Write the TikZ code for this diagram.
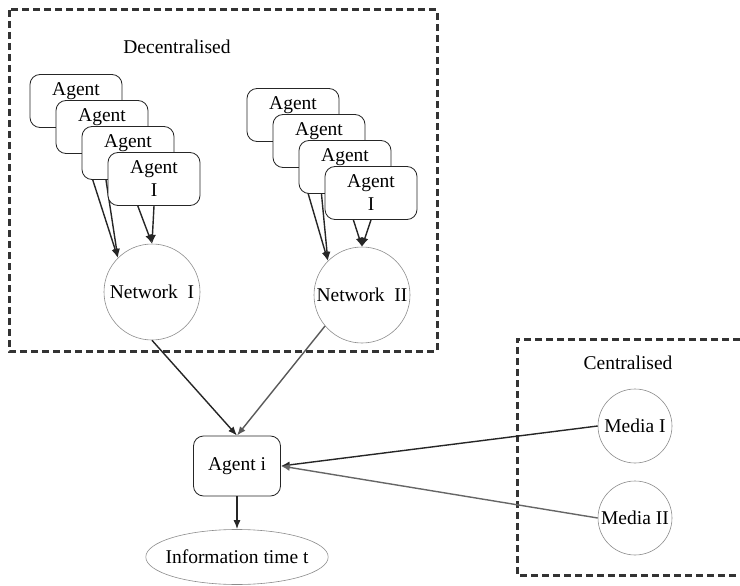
\documentclass[tikz,border=0pt]{standalone}
\usepackage{fontspec}
\setmainfont{Liberation Serif}
\usetikzlibrary{arrows.meta,shapes.geometric,backgrounds}

\begin{document}
\begin{tikzpicture}[x=1pt,y=-1pt]
\tikzset{every node/.style={font=\fontsize{19.5}{23}\selectfont}}
\tikzset{
  agentbox/.style={draw=black!85,fill=white,rounded corners=10pt,minimum width=92pt,minimum height=53pt,align=center,inner sep=2pt,line width=0.8pt},
  netcircle/.style={circle,draw=black!45,fill=white,minimum size=96pt,inner sep=0pt,line width=0.6pt},
  mediacircle/.style={circle,draw=black!45,fill=white,minimum size=74pt,inner sep=0pt,line width=0.6pt},
  infoellipse/.style={ellipse,draw=black!45,minimum height=55pt,inner xsep=-7pt,line width=0.6pt},
  frame/.style={draw=black!80,line width=3pt,dash pattern=on 7pt off 4pt},
  link/.style={-{Latex[length=9pt,width=7pt]},draw=black!85,line width=1.4pt},
}
\useasboundingbox (0,0) rectangle (740,586);

% Dashed frames
\draw[frame] (9,10) rectangle (437,351);
\draw[frame] (740,339) -- (517,339) -- (517,575) -- (740,575);
\node at (177,47) (dec) {Decentralised};
\node at (628,363) (cen) {Centralised};

% Nodes for agents of network I
\node[agentbox] at (76,101) (A1) {Agent\\I};
\node[agentbox] at (102,127) (A2) {Agent\\I};
\node[agentbox] at (128,153) (A3) {Agent\\I};
\node[agentbox] at (154,179) (A4) {Agent\\I};

% Nodes for agents of network II
\node[agentbox] at (293,115) (B1) {Agent\\I};
\node[agentbox] at (319,141) (B2) {Agent\\I};
\node[agentbox] at (345,167) (B3) {Agent\\I};
\node[agentbox] at (371,193) (B4) {Agent\\I};

% Nodes for networks and media
\node[netcircle] at (152,292) (NetI) {Network~~I};
\node[netcircle] at (362,295) (NetII) {Network~~II};
\node[mediacircle] at (635,426) (MediaI) {Media I};
\node[mediacircle] at (635,518) (MediaII) {Media II};

% Nodes for agent i and output
\node[agentbox,minimum width=87pt,minimum height=60pt] at (237,466) (Ai) {Agent i};
\node[infoellipse] at (237,557) (info) {Information time t};

% Lines for network I
\begin{scope}[on background layer]
\draw[link] (A1.south) -- (NetI.north west);
\draw[link] (A2.south) -- (NetI.north west);
\draw[link] (A3.south) -- (NetI.north);
\draw[link] (A4.south) -- (NetI.north);

% Lines for network II
\draw[link] (B1.south) -- (NetII.north west);
\draw[link] (B2.south) -- (NetII.north west);
\draw[link] (B3.south) -- (NetII.north);
\draw[link] (B4.south) -- (NetII.north);
\end{scope}

% Lines for agent i
\draw[link] (NetI.south) -- (Ai.north);
\draw[link,draw=black!65] (NetII.220) -- (Ai.north);
\draw[link] (MediaI.west) -- (Ai.east);
\draw[link,draw=black!60] (MediaII.west) -- (Ai.east);
\draw[link] (Ai.south) -- (info.north);
\end{tikzpicture}
\end{document}
